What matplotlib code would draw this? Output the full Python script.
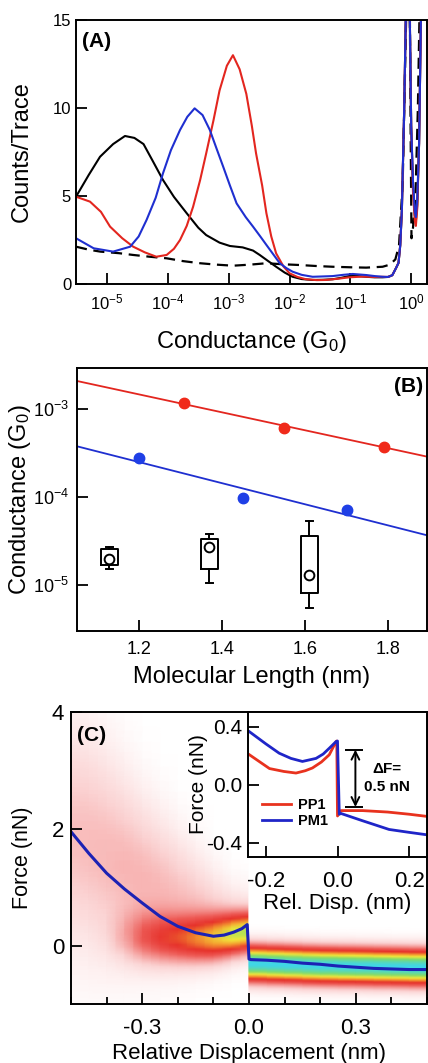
import numpy as np
import matplotlib
matplotlib.use('Agg')
import matplotlib.pyplot as plt
from matplotlib.colors import LinearSegmentedColormap
from matplotlib.ticker import MultipleLocator, LogLocator, NullLocator

plt.rcParams['font.family'] = ['Liberation Sans', 'DejaVu Sans']
plt.rcParams['mathtext.fontset'] = 'custom'
plt.rcParams['mathtext.rm'] = 'Liberation Sans'
plt.rcParams['mathtext.it'] = 'Liberation Sans:italic'
plt.rcParams['mathtext.bf'] = 'Liberation Sans:bold'

# ---- panel A: conductance histograms (log10 G, counts/trace)
blk_logg = [-5.51, -5.3, -5.115, -4.9, -4.705, -4.55, -4.4, -4.25, -4.08, -3.9, -3.69, -3.5,
            -3.37, -3.15, -2.98, -2.77, -2.6, -2.49, -2.35, -2.22, -2.08, -1.95, -1.8, -1.62,
            -1.45, -1.29, -1.15, -1.02, -0.88, -0.74, -0.6, -0.47, -0.38, -0.31, -0.25, -0.208,
            -0.18, -0.153, -0.115, -0.087, -0.06, -0.04, -0.022, 0.0, 0.03, 0.06, 0.077, 0.1,
            0.13, 0.16, 0.19, 0.26]
blk_cnt = [4.96, 6.2, 7.23, 7.95, 8.41, 8.3, 7.95, 7.0, 5.91, 4.95, 4.02, 3.2,
           2.78, 2.35, 2.16, 2.08, 1.9, 1.65, 1.3, 0.98, 0.65, 0.41, 0.28, 0.23,
           0.24, 0.27, 0.35, 0.45, 0.45, 0.41, 0.38, 0.38, 0.4, 0.5, 0.9, 1.2,
           2.2, 4.2, 9.9, 15.5, 25, 25, 15, 9, 5.5, 3.9, 3.6, 4.5,
           8, 15, 25, 30]

red_logg = [-5.51, -5.28, -5.1, -4.95, -4.75, -4.57, -4.38, -4.19, -4.02, -3.9, -3.8, -3.69,
            -3.585, -3.47, -3.37, -3.25, -3.15, -3.03, -2.93, -2.82, -2.71, -2.62, -2.55, -2.45,
            -2.38, -2.3, -2.22, -2.1, -2.0, -1.87, -1.73, -1.55, -1.4, -1.2, -1.02, -0.8,
            -0.6, -0.47, -0.38, -0.31, -0.25, -0.208, -0.18, -0.153, -0.115, -0.087, -0.06,
            -0.04, -0.022, 0.0, 0.03, 0.06, 0.077, 0.1, 0.13, 0.16, 0.19, 0.26]
red_cnt = [4.96, 4.68, 4.1, 3.26, 2.6, 2.12, 1.8, 1.55, 1.65, 2.0, 2.5, 3.3,
           4.39, 5.9, 7.42, 9.3, 11.0, 12.4, 13.0, 12.2, 10.8, 9.0, 7.42, 5.6,
           4.02, 2.7, 1.74, 1.0, 0.61, 0.4, 0.27, 0.22, 0.23, 0.3, 0.38, 0.42,
           0.4, 0.41, 0.4, 0.5, 0.9, 1.2, 2.2, 4.2, 9.9, 15.5, 25,
           25, 15, 9, 5.2, 3.6, 3.3, 4.3, 8, 15, 25, 30]

blu_logg = [-5.51, -5.22, -4.9, -4.62, -4.48, -4.35, -4.2, -4.08, -3.95, -3.8, -3.68, -3.56,
            -3.43, -3.31, -3.2, -3.09, -2.98, -2.87, -2.72, -2.6, -2.48, -2.38, -2.27, -2.16,
            -2.05, -1.95, -1.8, -1.62, -1.45, -1.29, -1.12, -0.96, -0.74, -0.6, -0.47, -0.38,
            -0.31, -0.25, -0.208, -0.18, -0.153, -0.115, -0.087, -0.06, -0.04, -0.022, 0.0,
            0.03, 0.06, 0.077, 0.1, 0.13, 0.16, 0.19, 0.26]
blu_cnt = [2.6, 2.03, 1.84, 2.12, 2.7, 3.64, 4.9, 6.29, 7.6, 8.75, 9.5, 9.98,
           9.6, 8.75, 7.7, 6.66, 5.6, 4.58, 3.8, 3.26, 2.7, 2.22, 1.7, 1.18,
           0.9, 0.7, 0.52, 0.41, 0.43, 0.45, 0.52, 0.57, 0.51, 0.45, 0.41, 0.4,
           0.5, 0.9, 1.2, 2.2, 4.2, 9.9, 15.5, 25, 25, 15, 9,
           5.8, 4.1, 3.8, 4.8, 8, 15, 25, 30]

dsh_logg = [-5.51, -5.3, -5.11, -4.8, -4.57, -4.3, -4.02, -3.75, -3.47, -3.2, -2.93, -2.65,
            -2.38, -2.1, -1.84, -1.55, -1.29, -1.0, -0.74, -0.47, -0.35, -0.26, -0.2, -0.14,
            -0.08, -0.05, -0.03, -0.01, 0.005, 0.03, 0.07, 0.11, 0.14, 0.18, 0.26]
dsh_cnt = [2.12, 1.95, 1.84, 1.75, 1.65, 1.55, 1.46, 1.3, 1.18, 1.1, 1.04, 1.1,
           1.18, 1.12, 1.08, 1.02, 0.98, 0.95, 0.93, 0.98, 1.1, 1.4, 2.2, 5.7,
           15.5, 25, 20, 9, 2.6, 3.2, 5, 10, 16, 25, 30]

# ---- panel B: conductance vs molecular length
pp_len = [1.31, 1.55, 1.79]
pp_g = [1.18e-3, 6.1e-4, 3.7e-4]
pp_fit_len = [1.052, 1.893]
pp_fit_g = [2.1e-3, 2.9e-4]
pm_len = [1.2, 1.45, 1.70]
pm_g = [2.8e-4, 9.8e-5, 7.1e-5]
pm_fit_len = [1.052, 1.893]
pm_fit_g = [3.8e-4, 3.7e-5]
# box stats: whisker low, q1, median, q3, whisker high
box_len = [1.13, 1.37, 1.61]
box_stats = [[1.55e-5, 1.7e-5, 2.0e-5, 2.6e-5, 2.7e-5],
             [1.07e-5, 1.55e-5, 2.7e-5, 3.4e-5, 3.8e-5],
             [5.5e-6, 8.1e-6, 1.3e-5, 3.6e-5, 5.4e-5]]

# ---- panel C: force vs displacement
avg_x = [-0.5, -0.45, -0.4, -0.35, -0.3, -0.25, -0.2, -0.15, -0.1, -0.07, -0.043, -0.02, -0.005,
         0.0, 0.005, 0.05, 0.1, 0.15, 0.2, 0.25, 0.3, 0.35, 0.4, 0.45, 0.5]
avg_f = [1.95, 1.58, 1.24, 0.97, 0.73, 0.5, 0.33, 0.22, 0.16, 0.18, 0.23, 0.29, 0.36,
         -0.23, -0.24, -0.25, -0.27, -0.3, -0.32, -0.35, -0.37, -0.39, -0.4, -0.41, -0.41]

# heat-map description per column: broad fan + band near the rupture
hl_x = [-0.5, -0.45, -0.4, -0.35, -0.3, -0.25, -0.2, -0.15, -0.1, -0.05, 0.0]
fan_c = [1.9, 1.75, 1.55, 1.35, 1.15, 0.98, 0.82, 0.68, 0.55, 0.45, 0.4]
fan_s = [1.35, 1.3, 1.2, 1.08, 0.95, 0.85, 0.75, 0.65, 0.55, 0.45, 0.4]
fan_a = [0.15, 0.155, 0.16, 0.165, 0.165, 0.16, 0.15, 0.14, 0.12, 0.1, 0.09]
band_c = [0.15, 0.15, 0.15, 0.15, 0.14, 0.13, 0.12, 0.12, 0.14, 0.19, 0.24]
band_s = [0.3, 0.3, 0.3, 0.3, 0.3, 0.29, 0.28, 0.27, 0.26, 0.24, 0.22]
band_a = [0.0, 0.0, 0.02, 0.1, 0.22, 0.3, 0.36, 0.43, 0.52, 0.62, 0.67]
hr_x = [0.0, 0.1, 0.2, 0.3, 0.4, 0.5]
hr_c = [-0.3, -0.32, -0.34, -0.35, -0.36, -0.37]
hr_s = [0.2, 0.2, 0.2, 0.2, 0.2, 0.2]
hr_a = [1.0, 1.0, 1.0, 1.0, 1.0, 1.0]

# inset: PP1 / PM1
pp1_x = [-0.246, -0.19, -0.15, -0.116, -0.09, -0.07, -0.045, -0.023, -0.004, -0.002, 0.0,
         0.01, 0.04, 0.07, 0.14, 0.2, 0.25]
pp1_f = [0.205, 0.11, 0.09, 0.079, 0.095, 0.114, 0.155, 0.205, 0.296, 0.3, -0.217,
         -0.18, -0.18, -0.18, -0.19, -0.205, -0.22]
pm1_x = [-0.246, -0.2, -0.163, -0.13, -0.098, -0.06, -0.04, -0.023, -0.004, 0.0, 0.005,
         0.01, 0.07, 0.144, 0.2, 0.25]
pm1_f = [0.364, 0.28, 0.216, 0.18, 0.159, 0.18, 0.21, 0.25, 0.296, 0.3, -0.205,
         -0.2, -0.25, -0.31, -0.33, -0.347]
dF_x = 0.05
dF_lo, dF_hi = -0.155, 0.24

RED = '#e3261f'
BLUE = '#1f2fd0'

W, H = 428, 1063
fig = plt.figure(figsize=(W / 100, H / 100), dpi=100)


def box(l, t, r, b):
    return [l / W, 1 - b / H, (r - l) / W, (b - t) / H]


def style(ax, size):
    for s in ax.spines.values():
        s.set_linewidth(1.4)
    ax.tick_params(which='both', direction='in', width=1.3, labelsize=size)
    ax.tick_params(which='major', length=8)
    ax.tick_params(which='minor', length=5)


# ---------------- (A)
axA = fig.add_axes(box(76, 20, 427, 284))
axA.plot(10 ** np.array(dsh_logg), dsh_cnt, '--', color='black', lw=1.6, dashes=(5, 3))
axA.plot(10 ** np.array(blk_logg), blk_cnt, color='black', lw=1.5)
axA.plot(10 ** np.array(red_logg), red_cnt, color=RED, lw=1.5)
axA.plot(10 ** np.array(blu_logg), blu_cnt, color=BLUE, lw=1.5)
axA.set_xscale('log')
axA.set_xlim(10 ** -5.51, 10 ** 0.26)
axA.set_ylim(0, 15)
axA.xaxis.set_major_locator(LogLocator(base=10, numticks=12))
axA.xaxis.set_minor_locator(NullLocator())
axA.set_yticks([0, 5, 10, 15])
style(axA, 12)
axA.tick_params(axis='x', pad=6)
axA.set_xlabel('Conductance (G$_0$)', fontsize=17)
axA.set_ylabel('Counts/Trace', fontsize=17)
axA.yaxis.set_label_coords(-0.122, 0.5)
axA.xaxis.set_label_coords(0.5, -0.172)
axA.text(0.017, 0.955, '(A)', transform=axA.transAxes, fontsize=15, fontweight='bold',
         va='top', ha='left')

# ---------------- (B)
axB = fig.add_axes(box(77, 368, 427, 631))
axB.plot(pp_fit_len, pp_fit_g, color=RED, lw=1.3)
axB.plot(pm_fit_len, pm_fit_g, color=BLUE, lw=1.3)
axB.plot(pp_len, pp_g, 'o', color='#f02a1a', ms=7.5)
axB.plot(pm_len, pm_g, 'o', color='#1f3fe6', ms=7.5)
axB.bxp([{'whislo': s[0], 'q1': s[1], 'med': s[2], 'q3': s[3], 'whishi': s[4], 'fliers': []}
         for s in box_stats], positions=box_len, widths=0.04, showcaps=True,
        boxprops=dict(color='black', lw=1.4), whiskerprops=dict(color='black', lw=1.4),
        capprops=dict(color='black', lw=1.4), medianprops=dict(color='none'),
        capwidths=0.016, manage_ticks=False)
axB.plot(box_len, [s[2] for s in box_stats], 'o', mfc='none', mec='black', mew=1.4, ms=7)
axB.set_yscale('log')
axB.set_xlim(1.052, 1.893)
axB.set_ylim(10 ** -5.52, 10 ** -2.53)
axB.set_xticks([1.2, 1.4, 1.6, 1.8])
axB.yaxis.set_major_locator(LogLocator(base=10, numticks=10))
axB.yaxis.set_minor_locator(NullLocator())
style(axB, 13)
axB.tick_params(axis='x', pad=7)
axB.tick_params(axis='y', pad=6)
axB.set_xlabel('Molecular Length (nm)', fontsize=17)
axB.set_ylabel('Conductance (G$_0$)', fontsize=17)
axB.yaxis.set_label_coords(-0.126, 0.5)
axB.xaxis.set_label_coords(0.5, -0.133)
axB.text(0.989, 0.966, '(B)', transform=axB.transAxes, fontsize=15, fontweight='bold',
         va='top', ha='right')

# ---------------- (C)
axC = fig.add_axes(box(71, 712, 427, 1004))
cmap = LinearSegmentedColormap.from_list('heat', [
    (0.0, '#ffffff'), (0.12, '#fbd3d3'), (0.3, '#ee5c57'), (0.42, '#e6302a'),
    (0.55, '#f59a30'), (0.66, '#f1e83c'), (0.8, '#82dc6c'), (1.0, '#40d6e8')])
gy = np.linspace(-1, 4, 300)


def column(y, c, s, a):
    return a * np.exp(-(y - c) ** 2 / (2 * s ** 2))


left = np.array([column(gy, fc, fs, fa) + column(gy, bc, bs, ba)
                 for fc, fs, fa, bc, bs, ba in zip(fan_c, fan_s, fan_a, band_c, band_s, band_a)]).T
right = np.array([column(gy, c, s, a) for c, s, a in zip(hr_c, hr_s, hr_a)]).T
axC.pcolormesh(hl_x, gy, np.clip(left, 0, 1), cmap=cmap, vmin=0, vmax=1, shading='gouraud')
axC.pcolormesh(hr_x, gy, np.clip(right, 0, 1), cmap=cmap, vmin=0, vmax=1, shading='gouraud')
axC.plot(avg_x, avg_f, color='#1c22b4', lw=2.2)
axC.set_xlim(-0.5, 0.5)
axC.set_ylim(-1, 4)
axC.xaxis.set_major_locator(MultipleLocator(0.3))
axC.xaxis.set_minor_locator(MultipleLocator(0.1))
axC.set_yticks([0, 2, 4])
axC.set_xticks([-0.3, 0.0, 0.3])
axC.set_xticklabels(['-0.3', '0.0', '0.3'])
style(axC, 16)
axC.tick_params(axis='x', pad=10)
axC.tick_params(axis='y', pad=5)
axC.set_xlabel('Relative Displacement (nm)', fontsize=16)
axC.set_ylabel('Force (nN)', fontsize=15.5)
axC.yaxis.set_label_coords(-0.107, 0.5)
axC.xaxis.set_label_coords(0.5, -0.134)
axC.text(0.017, 0.952, '(C)', transform=axC.transAxes, fontsize=15, fontweight='bold',
         va='top', ha='left')

# inset
axI = fig.add_axes(box(248, 712, 427, 857))
axI.set_facecolor('white')
axI.plot(pp1_x, pp1_f, color='#e8321e', lw=2, label='PP1')
axI.plot(pm1_x, pm1_f, color='#1f25c8', lw=2, label='PM1')
axI.set_xlim(-0.25, 0.25)
axI.set_ylim(-0.5, 0.5)
axI.set_xticks([-0.2, 0.0, 0.2])
axI.set_yticks([-0.4, 0.0, 0.4])
axI.set_xticklabels(['-0.2', '0.0', '0.2'])
axI.set_yticklabels(['-0.4', '0.0', '0.4'])
style(axI, 15)
axI.tick_params(axis='x', pad=10, labelsize=16)
axI.tick_params(axis='y', pad=4)
axI.set_xlabel('Rel. Disp. (nm)', fontsize=16)
axI.set_ylabel('Force (nN)', fontsize=15)
axI.yaxis.set_label_coords(-0.223, 0.5)
axI.xaxis.set_label_coords(0.5, -0.245)
axI.annotate('', xy=(dF_x, dF_hi), xytext=(dF_x, dF_lo),
             arrowprops=dict(arrowstyle='<->', color='black', lw=1.4, mutation_scale=14,
                             shrinkA=0, shrinkB=0))
axI.hlines([dF_lo, dF_hi], dF_x - 0.03, dF_x + 0.022, color='black', lw=1.4)
axI.text(0.139, 0.045, '\u0394F=\n0.5 nN', fontsize=11, fontweight='bold', ha='center',
         va='center', linespacing=1.3)
axI.legend(loc='lower left', bbox_to_anchor=(0.02, 0.13), frameon=False, handlelength=2.0,
           handletextpad=0.5, labelspacing=0.1, prop={'weight': 'bold', 'size': 10.5},
           borderaxespad=0.3)

fig.savefig('out.png', dpi=100)
